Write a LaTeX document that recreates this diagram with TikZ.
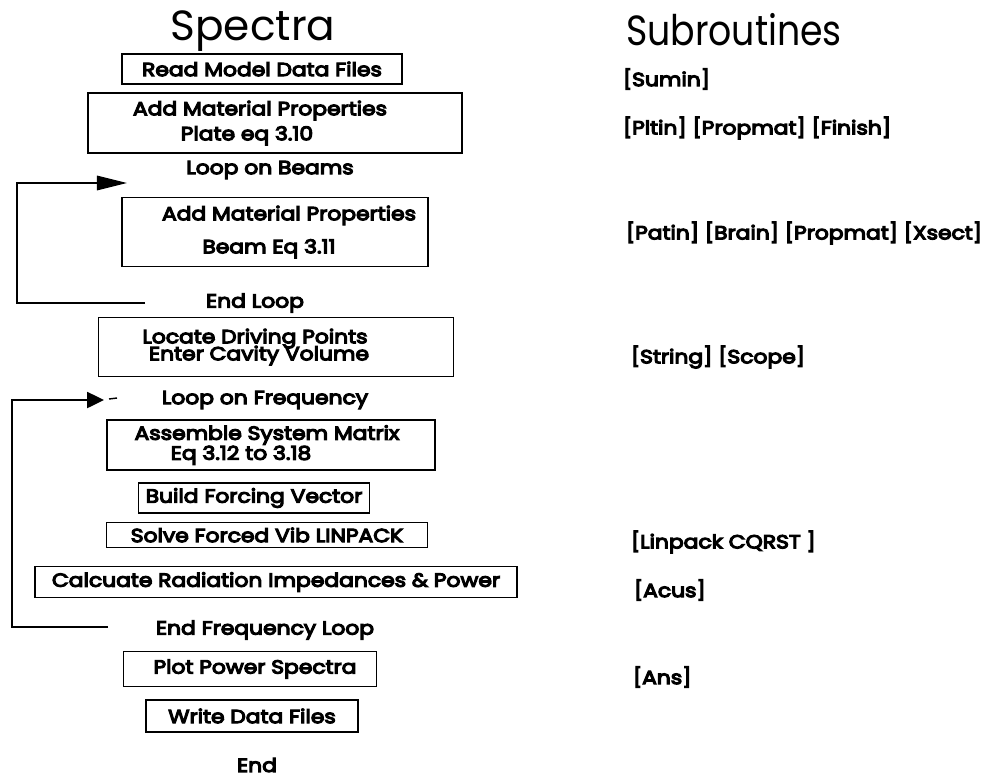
\documentclass[tikz,border=0pt]{standalone}
\usepackage{fontspec}
\setmainfont{Poppins}
\newfontfamily\labfamily{Poppins}[FakeStretch=1.15, FakeBold=6]
\newfontfamily\titlefont{Poppins}
\newfontfamily\subtfont{Poppins}[FakeStretch=0.86]
\usetikzlibrary{arrows.meta, positioning}

\newcommand{\labfont}{\labfamily\fontsize{13.5}{16}\selectfont}
\newcommand{\sh}[2]{\hspace*{#1}#2\hspace*{-#1}}

\begin{document}
\begin{tikzpicture}[
  x=0.025cm, y=-0.025cm, line width=1.3pt,
  stepbox/.style={draw, inner sep=1pt, align=center, font=\labfont},
  looplab/.style={font=\labfont},
  sublab/.style={anchor=west, inner sep=0pt, font=\labfont},
  titlelab/.style={anchor=base}
]
\useasboundingbox (0,0) rectangle (1003,778);

% column titles
\node[titlelab, font=\titlefont\fontsize{30}{34}\selectfont] (spectra) at (253,40) {Spectra};
\node[titlelab, font=\subtfont\fontsize{30}{34}\selectfont] (subr) at (734,45) {Subroutines};

% main flow
\node[stepbox, minimum width=7cm, minimum height=0.75cm] (read) at (262,69)
  {Read Model Data Files};
\node[stepbox, minimum width=9.35cm, minimum height=1.5cm] (plate) at (275,123)
  {\sh{-3.75mm}{Add Material Properties}\\[1.8pt]\sh{-7mm}{Plate eq 3.10}};
\node[looplab] (loopb) at (270,170) {Loop on Beams};
\node[stepbox, minimum width=7.65cm, minimum height=1.725cm] (beam) at (275,232)
  {\sh{3.5mm}{Add Material Properties}\\[7.5pt]\sh{-1.5mm}{Beam Eq 3.11}};
\node[looplab] (endb) at (255,303) {End Loop};
\node[stepbox, minimum width=8.875cm, minimum height=1.475cm] (locate) at (276,347)
  {\sh{-5.25mm}{Locate Driving Points}\\[-3.9pt]\sh{-4.25mm}{Enter Cavity Volume}};
\node[looplab] (loopf) at (265,400) {Loop on Frequency};
\node[stepbox, minimum width=8.2cm, minimum height=1.25cm] (assem) at (271,445)
  {\sh{-1mm}{Assemble System Matrix}\\[-1.8pt]\sh{-7.5mm}{Eq 3.12 to 3.18}};
\node[stepbox, minimum width=5.775cm, minimum height=0.75cm] (force) at (254,498)
  {Build Forcing Vector};
\node[stepbox, minimum width=8.025cm, minimum height=0.625cm] (solve) at (267,535)
  {Solve Forced Vib LINPACK};
\node[stepbox, minimum width=12.05cm, minimum height=0.775cm] (radn) at (276,582)
  {Calcuate Radiation Impedances \& Power};
\node[looplab] (endf) at (265,630) {End Frequency Loop};
\node[stepbox, minimum width=6.325cm, minimum height=0.875cm] (plot) at (250,669)
  {\sh{1.25mm}{Plot Power Spectra}};
\node[stepbox, minimum width=5.3cm, minimum height=0.8cm] (write) at (252,716)
  {Write Data Files};
\node[looplab] (fin) at (257,765) {End};

% loop on beams
\coordinate (bbot) at (145,303);
\coordinate (bcorner) at (17,183);
\coordinate (btop) at (127,183);
\draw[-{Triangle[length=0.75cm, width=0.36cm]}] (bbot) -| (bcorner) -- (btop);

% loop on frequency
\coordinate (fbot) at (108,627);
\coordinate (fcorner) at (12,400);
\coordinate (ftop) at (104,400);
\draw[-{Triangle[length=0.42cm, width=0.4cm]}] (fbot) -| (fcorner) -- (ftop);
\draw[line width=1pt] (109,399) -- (117,398);

% subroutine calls
\foreach \nm/\xx/\yy/\lab in {sumin/622/79/{[Sumin]},
    pltin/622/128/{[Pltin] [Propmat] [Finish]},
    patin/625/233/{[Patin] [Brain] [Propmat] [Xsect]},
    strg/630/357/{[String] [Scope]},
    linp/630/542/{[Linpack CQRST\ ]},
    acus/633/590/{[Acus]},
    ans/632/677/{[Ans]}}{
  \node[sublab] (sub\nm) at (\xx,\yy) {\lab};
}

\end{tikzpicture}
\end{document}
